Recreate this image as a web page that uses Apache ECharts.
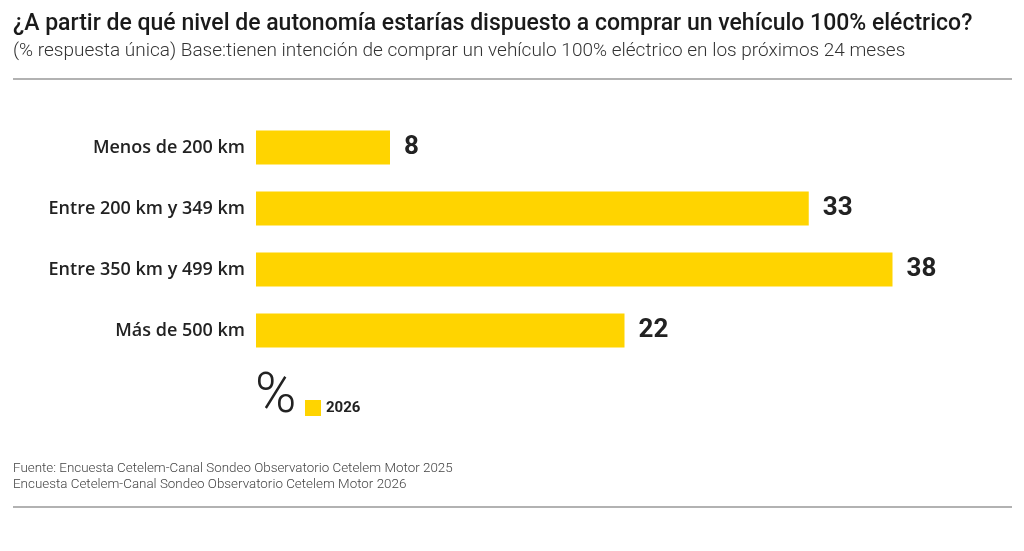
<!DOCTYPE html>
<html><head><meta charset="utf-8">
<script src="https://cdn.jsdelivr.net/npm/echarts@6/dist/echarts.min.js"></script>
<style>html,body{margin:0;padding:0;background:#fff}#c{width:1024px;height:551px}</style>
</head><body><div id="c"></div>
<script>
const categories = ['Menos de 200 km','Entre 200 km y 349 km','Entre 350 km y 499 km','Más de 500 km'];
const values2026 = [8, 33, 38, 22];
const seriesName = '2026';
const titleText = '¿A partir de qué nivel de autonomía estarías dispuesto a comprar un vehículo 100% eléctrico?';
const subtitleText = '(% respuesta única) Base:tienen intención de comprar un vehículo 100% eléctrico en los próximos 24 meses';
const sourceText = 'Fuente: Encuesta Cetelem-Canal Sondeo Observatorio Cetelem Motor 2025\nEncuesta Cetelem-Canal Sondeo Observatorio Cetelem Motor 2026';

const chart = echarts.init(document.getElementById('c'));
chart.setOption({
  backgroundColor: '#fff',
  animation: false,
  title: [
    {text: titleText, left: 8, top: 8, textStyle: {fontFamily: 'Roboto', fontSize: 23, fontWeight: 500, color: '#1a1a1a'}},
    {text: subtitleText, left: 8, top: 37, textStyle: {fontFamily: 'Roboto', fontSize: 19, fontWeight: 300, color: '#333'}},
    {text: sourceText, left: 8, top: 456, textStyle: {fontFamily: 'Roboto', fontSize: 13.4, fontWeight: 300, color: '#444', lineHeight: 16}}
  ],
  legend: {left: 300, top: 395, itemWidth: 16, itemHeight: 16, itemGap: 6, icon: 'rect',
    textStyle: {fontFamily: 'Roboto', fontSize: 15, fontWeight: 'bold', color: '#222'}, data: [seriesName]},
  grid: {left: 256, top: 117, width: 670, height: 244, containLabel: false},
  xAxis: {type: 'value', min: 0, max: 40, show: false},
  yAxis: {type: 'category', data: categories, inverse: true,
    axisLine: {show: false}, axisTick: {show: false},
    axisLabel: {margin: 11, fontFamily: 'Open Sans', fontSize: 18, fontWeight: 600, color: '#222'}},
  series: [{name: seriesName, type: 'bar', data: values2026, barWidth: 34,
    itemStyle: {color: '#FFD400'},
    label: {show: true, position: 'right', distance: 14, fontFamily: 'Roboto', fontSize: 26, fontWeight: 'bold', color: '#222'}}],
  graphic: [
    {type: 'line', shape: {x1: 13, y1: 79, x2: 1012, y2: 79}, style: {stroke: '#999', lineWidth: 1.5}},
    {type: 'line', shape: {x1: 13, y1: 507, x2: 1012, y2: 507}, style: {stroke: '#999', lineWidth: 1.5}},
    {type: 'text', left: 255, top: 370, style: {text: '%', fontFamily: 'Roboto', fontSize: 56, fontWeight: 300, fill: '#222'}}
  ]
});
</script></body></html>
